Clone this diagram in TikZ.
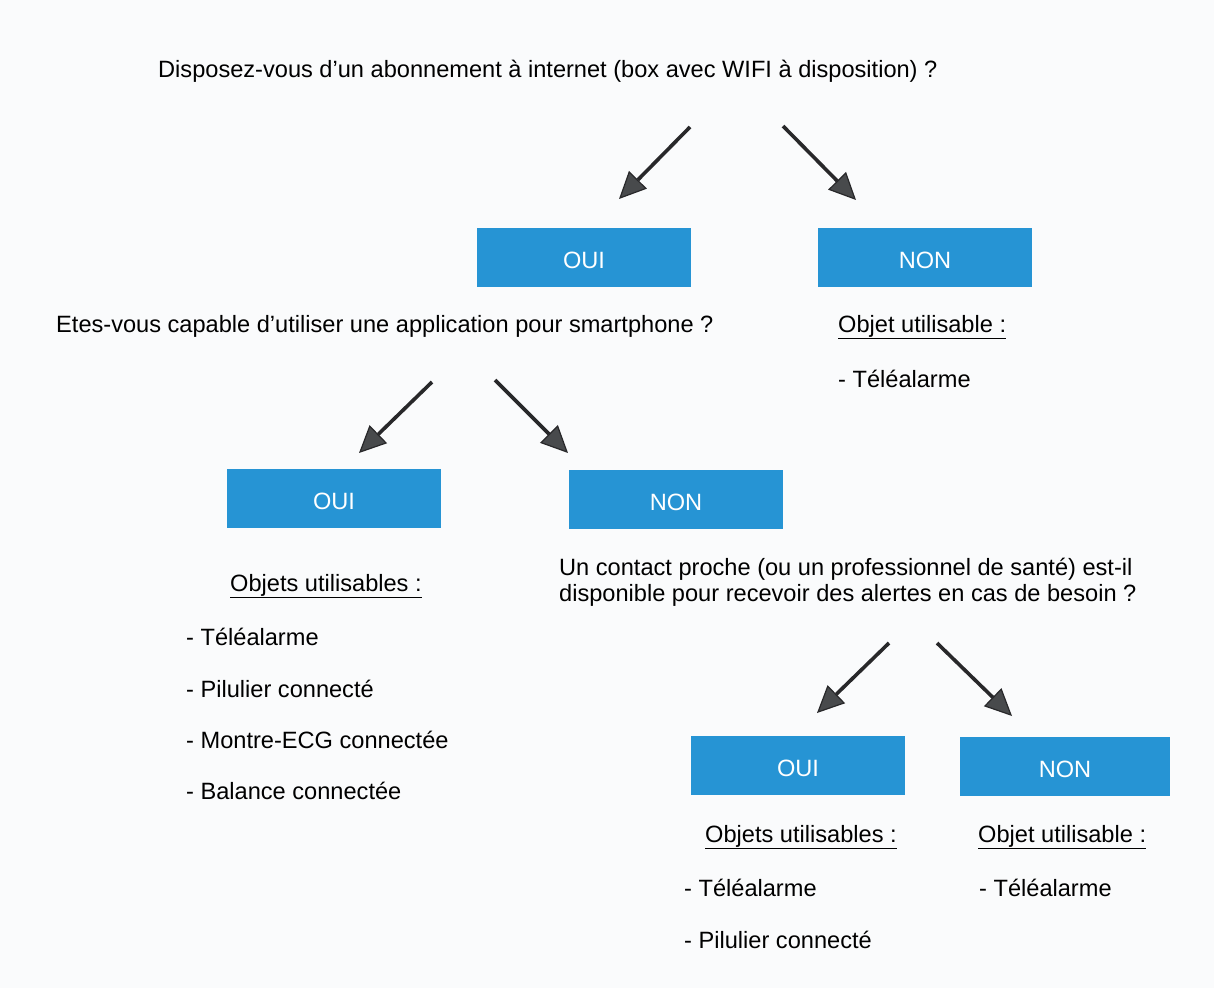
\documentclass[tikz,border=0pt]{standalone}
\usepackage{fontspec}
\setmainfont{Liberation Sans}
\usetikzlibrary{arrows.meta}
\definecolor{boxblue}{RGB}{38,148,212}
\definecolor{arrowgray}{RGB}{72,74,76}
\definecolor{shaftgray}{RGB}{40,40,42}
\definecolor{paper}{RGB}{250,251,252}
\begin{document}
\begin{tikzpicture}[x=1pt,y=-1pt,
  every node/.style={font=\fontsize{23.6}{26}\selectfont, inner sep=0pt},
  choice/.style={fill=boxblue, text=white, minimum width=214pt, minimum height=59pt,
    text height=23pt, text depth=0pt},
  txt/.style={anchor=west, text=black},
  arr/.style={draw=shaftgray, line width=3.6pt,
    -{Triangle[length=27pt,width=25pt,fill=arrowgray,line width=1.2pt]}}]
\useasboundingbox[fill=paper] (0,0) rectangle (1214,988);
% questions
\node[txt] (q1) at (158,71) {Disposez-vous d’un abonnement à internet (box avec WIFI à disposition) ?};
\node[txt] (q2) at (56,326) {Etes-vous capable d’utiliser une application pour smartphone ?};
\node[txt, align=left] (q3) at (559,582) {Un contact proche (ou un professionnel de santé) est-il\\disponible pour recevoir des alertes en cas de besoin ?};
% boxes
\node[choice] (oui1) at (584,257) {OUI};
\node[choice] (non1) at (925,257) {NON};
\node[choice] (oui2) at (334,498) {OUI};
\node[choice] (non2) at (676,499) {NON};
\node[choice] (oui3) at (798,765) {OUI};
\node[choice, minimum width=210pt] (non3) at (1065,766) {NON};
% arrow anchors
\coordinate (a1s) at (690,127); \coordinate (a1e) at (619,199);
\coordinate (a2s) at (783,126); \coordinate (a2e) at (856,200);
\coordinate (a3s) at (432,382); \coordinate (a3e) at (359,453);
\coordinate (a4s) at (495,380); \coordinate (a4e) at (568,453);
\coordinate (a5s) at (889,643); \coordinate (a5e) at (817,713);
\coordinate (a6s) at (937,643); \coordinate (a6e) at (1012,716);
\draw[arr] (a1s) -- (a1e);
\draw[arr] (a2s) -- (a2e);
\draw[arr] (a3s) -- (a3e);
\draw[arr] (a4s) -- (a4e);
\draw[arr] (a5s) -- (a5e);
\draw[arr] (a6s) -- (a6e);
% lists
\node[txt] (h1) at (838,327) {\underline{Objet utilisable :}};
\node[txt] (l11) at (838,379) {- Téléalarme};
\node[txt] (h2) at (230,586) {\underline{Objets utilisables :}};
\node[txt] (l21) at (186,637) {- Téléalarme};
\node[txt] (l22) at (186,689) {- Pilulier connecté};
\node[txt] (l23) at (186,740) {- Montre-ECG connectée};
\node[txt] (l24) at (186,791) {- Balance connectée};
\node[txt] (h3) at (705,837) {\underline{Objets utilisables :}};
\node[txt] (l31) at (684,888) {- Téléalarme};
\node[txt] (l32) at (684,940) {- Pilulier connecté};
\node[txt] (h4) at (978,837) {\underline{Objet utilisable :}};
\node[txt] (l41) at (979,888) {- Téléalarme};
\end{tikzpicture}
\end{document}
